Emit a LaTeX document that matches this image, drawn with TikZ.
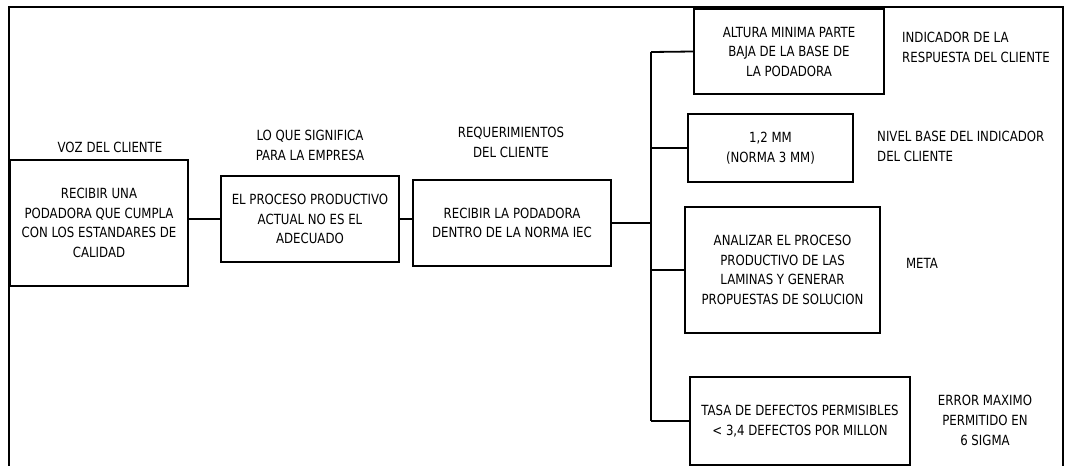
\documentclass[tikz,border=0pt]{standalone}
\usepackage{fontspec}
\setmainfont{DejaVu Sans}[FakeStretch=0.84]
\usetikzlibrary{positioning}

\begin{document}
\begin{tikzpicture}[x=1pt,y=-1pt]
        \tikzstyle{caja} = [draw, rectangle, line width=1.8pt, inner sep=0pt, align=center, font=\fontsize{14}{19.5}\selectfont]
        \tikzstyle{etiqueta} = [inner sep=0pt, align=center, font=\fontsize{14}{20}\selectfont]
        \tikzstyle{enlace} = [line width=1.8pt]
        \useasboundingbox (0,0) rectangle (1069,466);
        \draw[line width=1.4pt] (9,466) -- (9,7) -- (1063,7) -- (1063,466);
        % columna izquierda
        \node (voz) [caja, minimum width=178pt, minimum height=126pt] at (99,223) {RECIBIR UNA\\PODADORA QUE CUMPLA\\CON LOS ESTANDARES DE\\CALIDAD};
        \node (proceso) [caja, minimum width=178pt, minimum height=86pt] at (310,219) {EL PROCESO PRODUCTIVO\\ACTUAL NO ES EL\\ADECUADO};
        \node (req) [caja, minimum width=198pt, minimum height=86pt] at (512,223) {RECIBIR LA PODADORA\\DENTRO DE LA NORMA IEC};
        \node (tvoz) [etiqueta] at (110,147) {VOZ DEL CLIENTE};
        \node (tproceso) [etiqueta] at (310,145) {LO QUE SIGNIFICA\\PARA LA EMPRESA};
        \node (treq) [etiqueta] at (511,142) {REQUERIMIENTOS\\DEL CLIENTE};
        % columna derecha
        \node (altura) [caja, minimum width=190pt, minimum height=85pt] at (789,51.5) {ALTURA MINIMA PARTE\\BAJA DE LA BASE DE\\LA PODADORA};
        \node (nivel) [caja, minimum width=165pt, minimum height=68pt] at (770.5,148) {1,2 MM\\(NORMA 3 MM)};
        \node (analizar) [caja, minimum width=195pt, minimum height=126pt] at (782.5,270) {ANALIZAR EL PROCESO\\PRODUCTIVO DE LAS\\LAMINAS Y GENERAR\\PROPUESTAS DE SOLUCION};
        \node (tasa) [caja, minimum width=220pt, minimum height=88pt] at (800,421) {TASA DE DEFECTOS PERMISIBLES\\< 3,4 DEFECTOS POR MILLON};
        \node (tindicador) [etiqueta, anchor=west, align=left] at (902,47) {INDICADOR DE LA\\RESPUESTA DEL CLIENTE};
        \node (tnivel) [etiqueta, anchor=west, align=left] at (877,146) {NIVEL BASE DEL INDICADOR\\DEL CLIENTE};
        \node (tmeta) [etiqueta] at (922,263) {META};
        \node (terror) [etiqueta] at (985,420) {ERROR MAXIMO\\PERMITIDO EN\\6 SIGMA};
        % conexiones
        \coordinate (tronco-sup) at (651,52);
        \coordinate (tronco-inf) at (651,421);
        \draw[enlace] (voz.east |- proceso.west) -- (proceso.west);
        \draw[enlace] (proceso.east) -- (proceso.east -| req.west);
        \draw[enlace] (req.east) -- (req.east -| tronco-sup);
        \draw[enlace] (tronco-sup) -- (tronco-inf);
        \draw[enlace] (tronco-sup) -- (altura.west);
        \draw[enlace] (nivel.west -| tronco-sup) -- (nivel.west);
        \draw[enlace] (analizar.west -| tronco-sup) -- (analizar.west);
        \draw[enlace] (tronco-inf) -- (tasa.west);
\end{tikzpicture}
\end{document}
